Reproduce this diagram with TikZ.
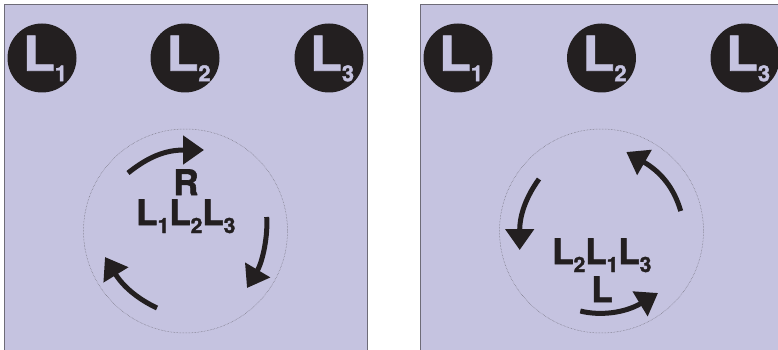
\documentclass[tikz,border=0pt]{standalone}
\usepackage{fontspec}
\setmainfont{TeX Gyre Heros}[BoldFeatures={FakeBold=1.6}]
\usetikzlibrary{arrows.meta}
\definecolor{panelfill}{HTML}{C5C3E0}
\definecolor{ink}{HTML}{231F20}
\definecolor{edge}{HTML}{6E6C78}
\newcommand{\bigL}[1]{\scalebox{1.08}[1]{\fontsize{48}{48}\selectfont\bfseries L}\raisebox{-10.5pt}{\fontsize{22}{22}\selectfont\bfseries #1}}
\newcommand{\midL}[1]{{\fontsize{35}{35}\selectfont\bfseries L}\raisebox{-8pt}{\fontsize{21}{21}\selectfont\bfseries #1}}
\tikzset{
  panel/.style={draw=edge,fill=panelfill,line width=1pt},
  disc/.style={circle,fill=ink,minimum size=69pt,inner sep=0pt},
  disclabel/.style={anchor=base west,inner sep=0pt,text=panelfill},
  ring/.style={circle,draw=edge,densely dotted,line width=0.5pt,minimum size=204pt,inner sep=0pt},
  seqlabel/.style={anchor=base west,inner sep=0pt,text=ink},
  handlabel/.style={anchor=base,inner sep=0pt,text=ink,font=\fontsize{35}{35}\selectfont\bfseries},
  turn/.style={draw=ink,line width=5pt,-{Triangle[length=21pt,width=28pt,fill=ink]}}
}
\begin{document}
\begin{tikzpicture}[x=1pt,y=-1pt]
\useasboundingbox (0,0) rectangle (778,350);
\clip (0,0) rectangle (778,350);
\fill[white] (0,0) rectangle (778,350);
\draw[panel] (4,5) rectangle (367,356);
\draw[panel] (420,5) rectangle (784,356);

% left panel
\node[disc] (a1) at (42,58) {};
\node[disc] (a2) at (185,58) {};
\node[disc] (a3) at (329,58) {};
\node[disclabel] (ta1) at (23,70.7) {\bigL{1}};
\node[disclabel] (ta2) at (166.5,70.7) {\bigL{2}};
\node[disclabel] (ta3) at (310,70.7) {\bigL{3}};
\node[ring] (ra) at (185.5,231) {};
\node[handlabel] (hand a) at (186,195) {R};
\node[seqlabel] (seq a) at (136,225) {\midL{1}\midL{2}\midL{3}};
\coordinate (s1) at (128,173);
\coordinate (e1) at (204,150);
\coordinate (s2) at (266.7,217);
\coordinate (e2) at (247,288);
\coordinate (s3) at (157,308);
\coordinate (e3) at (105,257);
\draw[turn] (s1) .. controls (148,157) and (165,150) .. (e1);
\draw[turn] (s2) .. controls (268,235) and (263,261) .. (e2);
\draw[turn] (s3) .. controls (140,300) and (124,288) .. (e3);

% right panel
\node[disc] (b1) at (458,58) {};
\node[disc] (b2) at (601.5,58) {};
\node[disc] (b3) at (745,58) {};
\node[disclabel] (tb1) at (439,70.7) {\bigL{1}};
\node[disclabel] (tb2) at (582.5,70.7) {\bigL{2}};
\node[disclabel] (tb3) at (726,70.7) {\bigL{3}};
\node[ring] (rb) at (601.5,231) {};
\node[handlabel] (hand b) at (602,302) {L};
\node[seqlabel] (seq b) at (552,264) {\midL{2}\midL{1}\midL{3}};
\coordinate (s4) at (539,179);
\coordinate (e4) at (519.7,250);
\coordinate (s5) at (680.7,211);
\coordinate (e5) at (626.3,152);
\coordinate (s6) at (580.3,311);
\coordinate (e6) at (658,293);
\draw[turn] (s4) .. controls (526,197) and (519.7,215) .. (e4);
\draw[turn] (s5) .. controls (674,188) and (661,172) .. (e5);
\draw[turn] (s6) .. controls (600,316) and (625,313) .. (e6);
\end{tikzpicture}
\end{document}
